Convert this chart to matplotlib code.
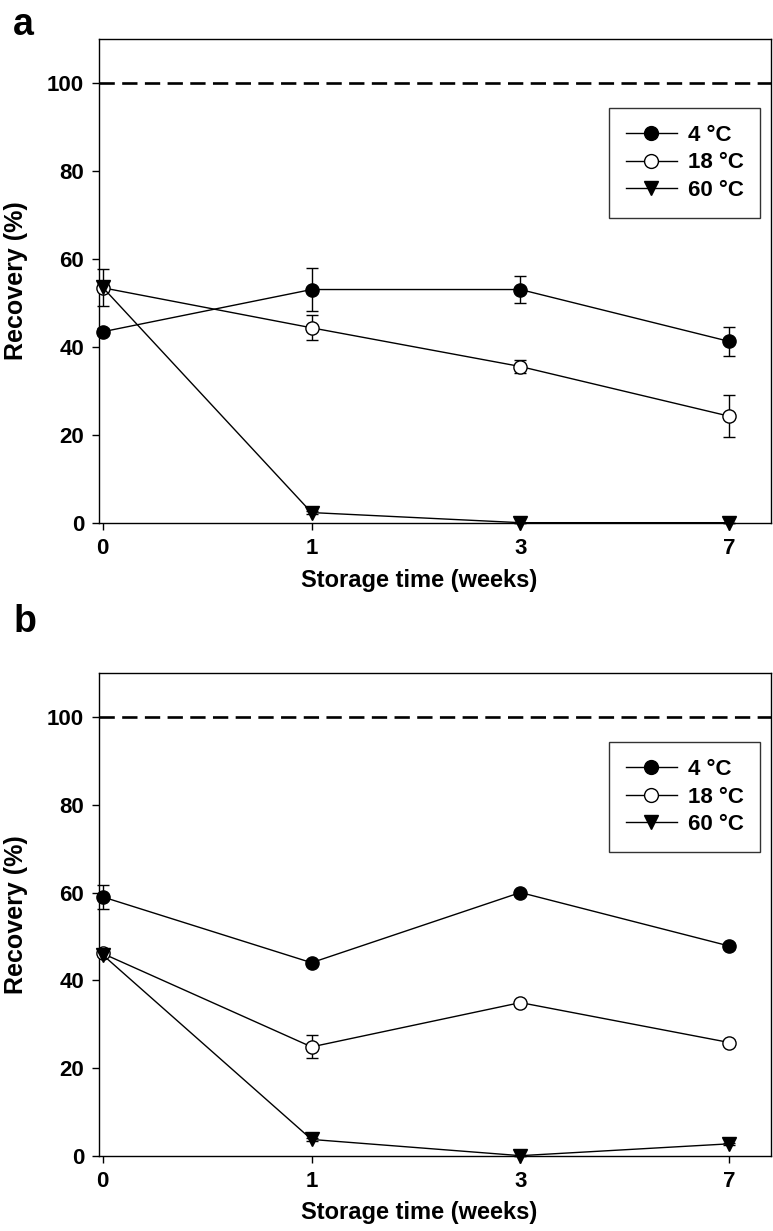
import matplotlib
matplotlib.use("Agg")
import matplotlib.pyplot as plt

plt.rcParams["font.family"] = ["Liberation Sans", "DejaVu Sans"]
plt.rcParams["font.weight"] = "bold"

weeks = ["0", "1", "3", "7"]
labels = ["4 °C", "18 °C", "60 °C"]

# panel a
a_4 = [43.4, 53.0, 53.0, 41.2]
a_4_err = [0.8, 4.8, 3.1, 3.2]
a_18 = [53.4, 44.3, 35.5, 24.2]
a_18_err = [4.2, 2.8, 1.4, 4.8]
a_60 = [53.5, 2.3, 0.0, 0.0]
a_60_err = [0.3, 0.3, 0.0, 0.0]

# panel b
b_4 = [59.0, 44.0, 60.0, 47.8]
b_4_err = [2.7, 0.4, 0.4, 0.6]
b_18 = [46.1, 24.8, 34.9, 25.8]
b_18_err = [0.4, 2.6, 0.4, 0.6]
b_60 = [45.8, 3.7, 0.0, 2.7]
b_60_err = [0.3, 0.3, 0.0, 0.3]

styles = [
    dict(marker="o", mfc="black"),
    dict(marker="o", mfc="white"),
    dict(marker="v", mfc="black"),
]


def draw_panel(ax, series, errs, letter, fig_y):
    x = list(range(len(weeks)))
    ax.axhline(100, color="black", lw=1.9, ls=(0, (5.8, 2.8)), zorder=1)
    for vals, err, st, lab in zip(series, errs, styles, labels):
        ax.errorbar(x, vals, yerr=err, fmt="none", ecolor="black",
                    elinewidth=1.0, capsize=4.2, capthick=1.0, zorder=2,
                    clip_on=False)
        ax.plot(x, vals, color="black", lw=1.0, marker=st["marker"],
                mfc=st["mfc"], mec="black", mew=1.0, ms=9.5, label=lab,
                zorder=3, clip_on=False)
    ax.set_xlim(-0.016, 3.2)
    ax.set_ylim(0, 110)
    ax.set_xticks(x)
    ax.set_xticklabels(weeks)
    ax.set_yticks([0, 20, 40, 60, 80, 100])
    ax.tick_params(direction="out", length=5, width=1.0, labelsize=16, pad=6)
    for sp in ax.spines.values():
        sp.set_linewidth(1.0)
    ax.set_xlabel("Storage time (weeks)", fontsize=17, fontweight="bold")
    ax.set_ylabel("Recovery (%)", fontsize=18, fontweight="bold")
    ax.xaxis.set_label_coords(0.476, -0.095)
    ax.yaxis.set_label_coords(-0.106, 0.5)
    leg = ax.legend(loc="upper right", bbox_to_anchor=(0.984, 0.857),
                    fontsize=16, frameon=True, fancybox=False,
                    handlelength=2.3, handletextpad=0.5, labelspacing=0.3,
                    borderpad=0.75, borderaxespad=0, markerscale=1.05)
    leg.get_frame().set_edgecolor("black")
    leg.get_frame().set_linewidth(1.0)
    for t in leg.get_texts():
        t.set_fontweight("bold")
    fig.text(0.017, fig_y, letter, fontsize=27, fontweight="bold")


fig = plt.figure(figsize=(7.73, 12.31), dpi=100)
ax_a = fig.add_axes([0.1285, 0.5754, 0.869, 0.3931])
ax_b = fig.add_axes([0.1285, 0.0612, 0.869, 0.3919])

draw_panel(ax_a, [a_4, a_18, a_60], [a_4_err, a_18_err, a_60_err], "a", 0.9716)
draw_panel(ax_b, [b_4, b_18, b_60], [b_4_err, b_18_err, b_60_err], "b", 0.4866)

fig.savefig("out.png", dpi=100)
